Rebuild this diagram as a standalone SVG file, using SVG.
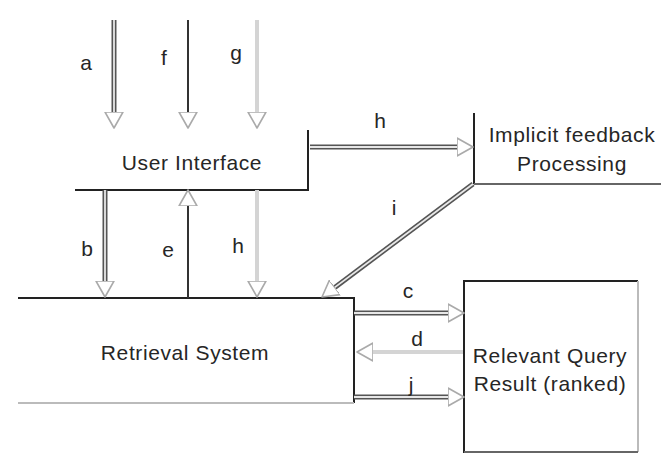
<svg xmlns="http://www.w3.org/2000/svg" width="661" height="454" viewBox="0 0 661 454">
<defs>
<marker id="head" viewBox="0 -10 18 20" markerWidth="18" markerHeight="20" refX="0" refY="0" orient="auto" markerUnits="userSpaceOnUse">
<path d="M0,-9 L16,0 L0,9 Z" fill="#fff" stroke="#aaa" stroke-width="1.6" stroke-linejoin="round"/>
</marker>
</defs>
<style>
text{font-family:"Liberation Sans",Arial,sans-serif;fill:#262626}
.node{font-size:21px;letter-spacing:0.6px}
.lbl{font-size:21px;text-anchor:middle}
.edge{stroke:#222;stroke-width:2;fill:none}
.edge2{stroke:#bbb;stroke-width:2;fill:none}
.edge3{stroke:#666;stroke-width:2;fill:none}
.dbl{stroke:#555;stroke-width:5;fill:none}
.dblin{stroke:#e8e8e8;stroke-width:1.8;fill:none}
.one{stroke:#333;stroke-width:2;fill:none}
.light{stroke:#d4d4d4;stroke-width:4;fill:none}
</style>
<rect width="661" height="454" fill="#fff"/>
<g id="ui">
<path class="edge" d="M308,130 V190 H75"/>
<text class="node" x="192" y="170" text-anchor="middle">User Interface</text>
</g>
<g id="implicit">
<path class="edge" d="M474,113 V184"/>
<path class="edge3" d="M474,184 H661"/>
<text class="node" x="572" y="142" text-anchor="middle">Implicit feedback</text>
<text class="node" x="572" y="171" text-anchor="middle">Processing</text>
</g>
<g id="retrieval">
<path class="edge" d="M18,298 H354 V403"/>
<path class="edge2" d="M18,403 H354"/>
<text class="node" x="185" y="360" text-anchor="middle">Retrieval System</text>
</g>
<g id="relevant">
<path class="edge" d="M464,453 V281 H638"/>
<path class="edge2" d="M638,281 V452"/>
<path class="edge3" d="M638,452 H464"/>
<text class="node" x="550" y="363" text-anchor="middle">Relevant Query</text>
<text class="node" x="550" y="391" text-anchor="middle">Result (ranked)</text>
</g>
<g id="connectors">
<path class="dbl" d="M114,20 V112" marker-end="url(#head)"/>
<path class="dblin" d="M114,20 V112"/>
<path class="one" d="M188,20 V112" marker-end="url(#head)"/>
<path class="light" d="M257,20 V112" marker-end="url(#head)"/>
<path class="dbl" d="M310,147 H457" marker-end="url(#head)"/>
<path class="dblin" d="M310,147 H457"/>
<path class="dbl" d="M105,190 V281" marker-end="url(#head)"/>
<path class="dblin" d="M105,190 V281"/>
<path class="one" d="M188,298 V206" marker-end="url(#head)"/>
<path class="light" d="M257,190 V281" marker-end="url(#head)"/>
<path class="dbl" d="M473,184 L334.8,287.4" marker-end="url(#head)"/>
<path class="dblin" d="M473,184 L334.8,287.4"/>
<path class="dbl" d="M354,313 H448" marker-end="url(#head)"/>
<path class="dblin" d="M354,313 H448"/>
<path class="light" d="M463,352 H373" marker-end="url(#head)"/>
<path class="dbl" d="M354,397 H448" marker-end="url(#head)"/>
<path class="dblin" d="M354,397 H448"/>
<text class="lbl" x="86" y="70">a</text>
<text class="lbl" x="164" y="65">f</text>
<text class="lbl" x="236" y="60">g</text>
<text class="lbl" x="380" y="128">h</text>
<text class="lbl" x="87" y="256">b</text>
<text class="lbl" x="168" y="257">e</text>
<text class="lbl" x="238" y="253">h</text>
<text class="lbl" x="394" y="215">i</text>
<text class="lbl" x="408" y="298">c</text>
<text class="lbl" x="417" y="346">d</text>
<text class="lbl" x="411" y="392">j</text>
</g>
</svg>
